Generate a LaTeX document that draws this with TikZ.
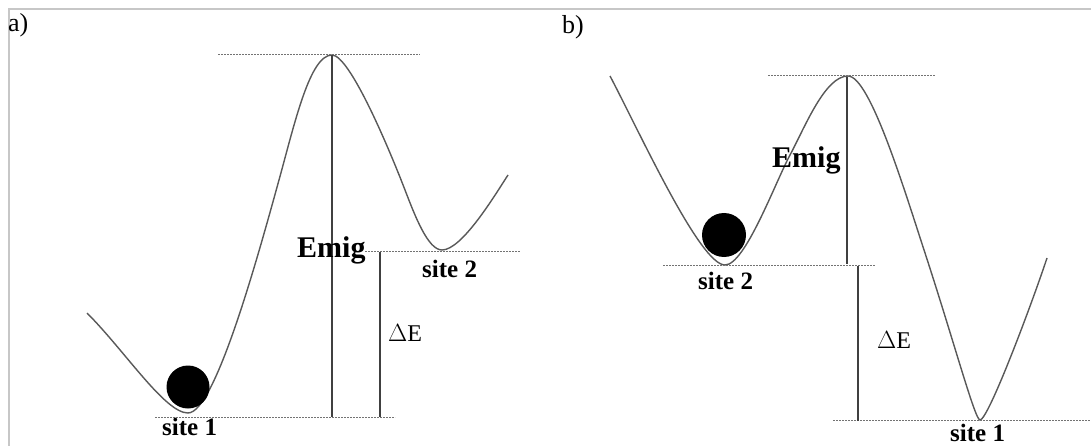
\documentclass[tikz,border=0pt]{standalone}
\usepackage{fontspec}
\setmainfont{Liberation Serif}
\begin{document}
\begin{tikzpicture}[x=1pt,y=-1pt,
  curve/.style={draw=black!65, line width=1.4pt},
  level/.style={draw=black!55, line width=1pt, dash pattern=on 1.6pt off 1.4pt},
  bar/.style={draw=black!75, line width=1.3pt},
  frame/.style={draw=black!22, line width=1.2pt},
  ball/.style={fill=black},
  lbl/.style={inner sep=0pt, anchor=base west, font=\fontsize{25}{25}\selectfont\bfseries},
  dlbl/.style={inner sep=0pt, anchor=base west, font=\fontsize{24}{24}\selectfont},
  elbl/.style={inner sep=0pt, anchor=base west, font=\fontsize{30}{30}\selectfont\bfseries},
  plbl/.style={inner sep=0pt, anchor=base west, font=\fontsize{26}{26}\selectfont}]
\useasboundingbox (0,0) rectangle (1091,446);
\fill[white] (0,0) rectangle (1091,446);
% frame
\coordinate (fL) at (9,446);
\coordinate (fC) at (9,9);
\coordinate (fR) at (1091,9);
\draw[frame] (fL) -- (fC) -- (fR);

% ---------- panel a ----------
\node[plbl] (la) at (8,32) {a)};
\coordinate (aS) at (87,313);
\coordinate (aM1) at (188,413);
\coordinate (aI1) at (279,180);
\coordinate (aP) at (332,55);
\coordinate (aI2) at (405,190);
\coordinate (aM2) at (442,250);
\coordinate (aE) at (508,175);
\draw[curve] (aS) .. controls (125,351) and (165,413) .. (aM1)
  .. controls (215,413) and (258,256) .. (aI1)
  .. controls (295,122) and (310,55) .. (aP)
  .. controls (350,55) and (390,151) .. (aI2)
  .. controls (415,216) and (428,250) .. (aM2)
  .. controls (462,250) and (495,195) .. (aE);
\fill[ball] (188,387) circle (21.5);
% levels
\coordinate (a1L) at (155,417); \coordinate (a1R) at (395,417);
\coordinate (a2L) at (365,251); \coordinate (a2R) at (520,251);
\coordinate (apL) at (218,55);  \coordinate (apR) at (420,55);
\draw[level] (a1L) -- (a1R);
\draw[level] (a2L) -- (a2R);
\draw[level] (apL) -- (apR);
% bars
\coordinate (aeT) at (332,55); \coordinate (aeB) at (332,417);
\coordinate (adT) at (380,252); \coordinate (adB) at (380,417);
\draw[bar] (aeT) -- (aeB);
\draw[bar] (adT) -- (adB);
\node[elbl] (aemig) at (297,257) {Emig};
\node[dlbl] (ade) at (388,341) {$\Delta$E};
\node[lbl] (as1) at (162,435) {site 1};
\node[lbl] (as2) at (422,277) {site 2};

% ---------- panel b ----------
\node[plbl] (lb) at (562,34) {b)};
\coordinate (bS) at (610,76);
\coordinate (bM1) at (725,265);
\coordinate (bI1) at (790,155);
\coordinate (bP) at (848,76);
\coordinate (bI2) at (925,253);
\coordinate (bM2) at (980,420);
\coordinate (bE) at (1047,258);
\draw[curve] (bS) .. controls (640,133) and (700,265) .. (bM1)
  .. controls (745,265) and (775,183) .. (bI1)
  .. controls (805,127) and (825,76) .. (bP)
  .. controls (870,76) and (905,192) .. (bI2)
  .. controls (955,345) and (975,420) .. (bM2)
  .. controls (988,420) and (1030,309) .. (bE);
\fill[ball] (724,235) circle (22);
\coordinate (b2L) at (663,265); \coordinate (b2R) at (875,265);
\coordinate (bpL) at (768,76);  \coordinate (bpR) at (935,76);
\coordinate (b1L) at (833,420); \coordinate (b1R) at (1091,420);
\draw[level] (b2L) -- (b2R);
\draw[level] (bpL) -- (bpR);
\draw[level] (b1L) -- (b1R);
\coordinate (beT) at (847,77); \coordinate (beB) at (847,264);
\coordinate (bdT) at (858,266); \coordinate (bdB) at (858,421);
\draw[bar] (beT) -- (beB);
\draw[bar] (bdT) -- (bdB);
\node[elbl] (bemig) at (772,168) {Emig};
\node[dlbl] (bde) at (877,348) {$\Delta$E};
\node[lbl] (bs2) at (698,289) {site 2};
\node[lbl] (bs1) at (950,441) {site 1};
\end{tikzpicture}
\end{document}
